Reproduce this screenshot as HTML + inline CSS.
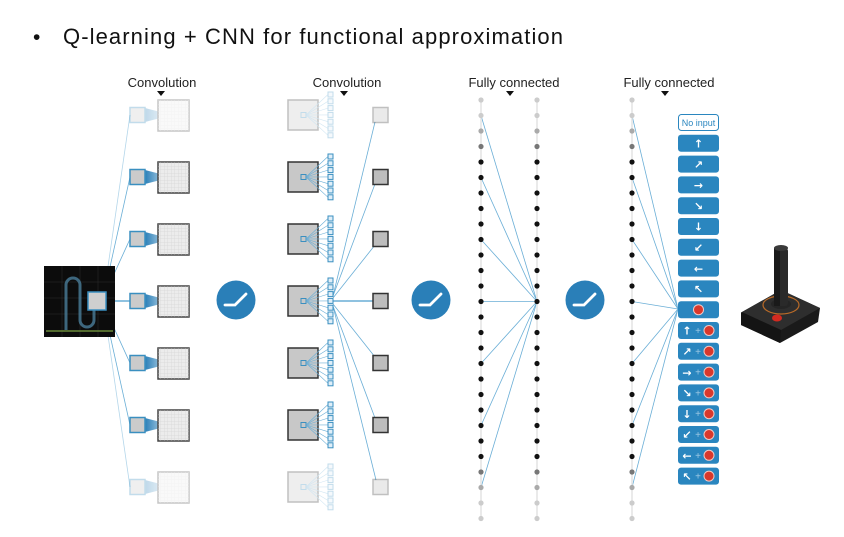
<!DOCTYPE html>
<html><head><meta charset="utf-8"><style>
body{margin:0;background:#fff;}
svg{display:block;font-family:"Liberation Sans",sans-serif;}
</style></head><body>
<svg width="844" height="537" viewBox="0 0 844 537" xmlns="http://www.w3.org/2000/svg">
<defs>
<pattern id="grid" width="3.5" height="3.5" patternUnits="userSpaceOnUse"><path d="M3.5 0V3.5H0" fill="none" stroke="#cfcfcf" stroke-width="0.5"/></pattern>
<linearGradient id="tri" x1="0" x2="1"><stop offset="0" stop-color="#2a7fb8"/><stop offset="1" stop-color="#2a7fb8" stop-opacity="0.1"/></linearGradient>
<g id="c1">
<polygon points="145,-7 172,0 145,7" fill="url(#tri)"/>
<rect x="130" y="-7.5" width="15" height="15" fill="#cbcbcb" stroke="#3a8fc0" stroke-width="1.5"/>
<rect x="158" y="-15" width="31" height="31" fill="#ececec" stroke="#444" stroke-width="1.5"/>
<rect x="158" y="-15" width="31" height="31" fill="url(#grid)"/>
</g>
<g id="c2">
<rect x="288" y="-15" width="30" height="30" fill="#c8c8c8" stroke="#333" stroke-width="1.5"/>
<rect x="301" y="-2.5" width="5" height="5" fill="none" stroke="#3a8fc0" stroke-width="1"/>
<g stroke="#6aaed6" stroke-width="0.6">
<line x1="306" y1="0" x2="328" y2="-20.5"/><line x1="306" y1="0" x2="328" y2="-13.7"/><line x1="306" y1="0" x2="328" y2="-6.9"/><line x1="306" y1="0" x2="328" y2="-0.1"/><line x1="306" y1="0" x2="328" y2="6.7"/><line x1="306" y1="0" x2="328" y2="13.5"/><line x1="306" y1="0" x2="328" y2="20.3"/>
</g>
<g fill="#dfeef8" stroke="#3a8fc0" stroke-width="1">
<rect x="328" y="-23" width="5" height="5"/><rect x="328" y="-16.2" width="5" height="5"/><rect x="328" y="-9.4" width="5" height="5"/><rect x="328" y="-2.6" width="5" height="5"/><rect x="328" y="4.2" width="5" height="5"/><rect x="328" y="11" width="5" height="5"/><rect x="328" y="17.8" width="5" height="5"/>
</g>
<rect x="373" y="-7.5" width="15" height="15" fill="#bdbdbd" stroke="#333" stroke-width="1.5"/>
</g>
<g id="dots">
<line x1="0" y1="100" x2="0" y2="519" stroke="#e4e4e4" stroke-width="1.5"/>
<g fill="#ccc"><circle cy="100" r="2.6"/><circle cy="115.5" r="2.6"/><circle cy="503" r="2.6"/><circle cy="518.5" r="2.6"/></g>
<g fill="#aaa"><circle cy="131" r="2.6"/><circle cy="487.5" r="2.6"/></g>
<g fill="#777"><circle cy="146.5" r="2.6"/><circle cy="472" r="2.6"/></g>
<g fill="#111"><circle cy="162" r="2.6"/><circle cy="177.5" r="2.6"/><circle cy="193" r="2.6"/><circle cy="208.5" r="2.6"/><circle cy="224" r="2.6"/><circle cy="239.5" r="2.6"/><circle cy="255" r="2.6"/><circle cy="270.5" r="2.6"/><circle cy="286" r="2.6"/><circle cy="301.5" r="2.6"/><circle cy="317" r="2.6"/><circle cy="332.5" r="2.6"/><circle cy="348" r="2.6"/><circle cy="363.5" r="2.6"/><circle cy="379" r="2.6"/><circle cy="394.5" r="2.6"/><circle cy="410" r="2.6"/><circle cy="425.5" r="2.6"/><circle cy="441" r="2.6"/><circle cy="456.5" r="2.6"/></g>
</g>
<g id="relu"><circle r="19.5" fill="#2a7fb8"/><path d="M-11 5H-1L10 -6" fill="none" stroke="#fff" stroke-width="2.8" stroke-linecap="round"/></g>
<g id="btn"><rect x="678" y="0" width="41" height="17" rx="3" fill="#2a86bf"/></g>
</defs>

<text x="33" y="44" font-size="21" fill="#111">•</text>
<text x="63" y="44" font-size="22" fill="#111" textLength="500" lengthAdjust="spacing">Q-learning + CNN for functional approximation</text>

<g font-size="13" fill="#222" text-anchor="middle">
<text x="162" y="87">Convolution</text>
<text x="347" y="87">Convolution</text>
<text x="514" y="87">Fully connected</text>
<text x="669" y="87">Fully connected</text>
</g>
<g fill="#111">
<polygon points="157,91 165,91 161,96"/><polygon points="340,91 348,91 344,96"/><polygon points="506,91 514,91 510,96"/><polygon points="661,91 669,91 665,96"/>
</g>

<g stroke="#6aaed6" stroke-width="0.8">
<line x1="104" y1="294" x2="130" y2="115" opacity="0.5"/><line x1="104" y1="294" x2="130" y2="177"/><line x1="104" y1="296" x2="130" y2="239"/><line x1="106" y1="301" x2="130" y2="301" stroke-width="1.5"/><line x1="104" y1="306" x2="130" y2="363"/><line x1="104" y1="308" x2="130" y2="425"/><line x1="104" y1="308" x2="130" y2="487" opacity="0.5"/>
</g>
<rect x="44" y="266" width="71" height="71" fill="#0c0c0c"/>
<g stroke="#2a2a2a" stroke-width="0.6"><line x1="44" y1="282" x2="115" y2="282"/><line x1="44" y1="298" x2="115" y2="298"/><line x1="44" y1="314" x2="115" y2="314"/><line x1="62" y1="266" x2="62" y2="337"/><line x1="80" y1="266" x2="80" y2="337"/><line x1="98" y1="266" x2="98" y2="337"/></g>
<path d="M66 330V285a7 7 0 0 1 14 0V320a7 7 0 0 0 14 0V300" fill="none" stroke="#4a7d9a" stroke-width="3" opacity="0.8"/>
<line x1="46" y1="331" x2="113" y2="331" stroke="#6a8a3a" stroke-width="1.5"/>
<rect x="88" y="292" width="18" height="18" fill="#cfcfcf" stroke="#3a8fc0" stroke-width="1.5"/>

<use href="#c1" y="115" opacity="0.3"/><use href="#c1" y="177"/><use href="#c1" y="239"/><use href="#c1" y="301"/><use href="#c1" y="363"/><use href="#c1" y="425"/><use href="#c1" y="487" opacity="0.3"/>

<use href="#relu" x="236" y="300"/><use href="#relu" x="431" y="300"/><use href="#relu" x="585" y="300"/>

<g stroke="#6aaed6" stroke-width="0.8">
<line x1="333" y1="296" x2="375" y2="122"/><line x1="333" y1="296" x2="375" y2="184"/><line x1="333" y1="298" x2="375" y2="245"/><line x1="333" y1="301" x2="373" y2="301" stroke-width="1.5"/><line x1="333" y1="304" x2="375" y2="357"/><line x1="333" y1="306" x2="375" y2="418"/><line x1="333" y1="306" x2="376" y2="480"/>
</g>
<use href="#c2" y="115" opacity="0.3"/><use href="#c2" y="177"/><use href="#c2" y="239"/><use href="#c2" y="301"/><use href="#c2" y="363"/><use href="#c2" y="425"/><use href="#c2" y="487" opacity="0.3"/>

<g stroke="#6aaed6" stroke-width="0.8">
<line x1="481" y1="115.5" x2="537" y2="301.5"/><line x1="481" y1="177.5" x2="537" y2="301.5"/><line x1="481" y1="239.5" x2="537" y2="301.5"/><line x1="481" y1="301.5" x2="537" y2="301.5"/><line x1="481" y1="363.5" x2="537" y2="301.5"/><line x1="481" y1="425.5" x2="537" y2="301.5"/><line x1="481" y1="487.5" x2="537" y2="301.5"/>
<line x1="632" y1="115.5" x2="678" y2="309"/><line x1="632" y1="177.5" x2="678" y2="309"/><line x1="632" y1="239.5" x2="678" y2="309"/><line x1="632" y1="301.5" x2="678" y2="309"/><line x1="632" y1="363.5" x2="678" y2="309"/><line x1="632" y1="425.5" x2="678" y2="309"/><line x1="632" y1="487.5" x2="678" y2="309"/>
</g>
<use href="#dots" x="481"/><use href="#dots" x="537"/><use href="#dots" x="632"/>

<rect x="678.5" y="114.5" width="40" height="16" rx="3" fill="#fff" stroke="#2a86bf"/>
<text x="698.5" y="126" font-size="9" fill="#2a86bf" text-anchor="middle">No input</text>
<use href="#btn" y="134.8"/><use href="#btn" y="155.6"/><use href="#btn" y="176.4"/><use href="#btn" y="197.2"/><use href="#btn" y="218"/><use href="#btn" y="238.8"/><use href="#btn" y="259.6"/><use href="#btn" y="280.4"/><use href="#btn" y="301.2"/><use href="#btn" y="322"/><use href="#btn" y="342.8"/><use href="#btn" y="363.6"/><use href="#btn" y="384.4"/><use href="#btn" y="405.2"/><use href="#btn" y="426"/><use href="#btn" y="446.8"/><use href="#btn" y="467.6"/>
<g font-size="11" fill="#fff" text-anchor="middle" font-weight="bold" font-family="DejaVu Sans,sans-serif">
<text x="698.5" y="147.5">↑</text><text x="698.5" y="168.3">↗</text><text x="698.5" y="189.1">→</text><text x="698.5" y="209.9">↘</text><text x="698.5" y="230.7">↓</text><text x="698.5" y="251.5">↙</text><text x="698.5" y="272.3">←</text><text x="698.5" y="293.1">↖</text>
<text x="687" y="334.7">↑</text><text x="687" y="355.5">↗</text><text x="687" y="376.3">→</text><text x="687" y="397.1">↘</text><text x="687" y="417.9">↓</text><text x="687" y="438.7">↙</text><text x="687" y="459.5">←</text><text x="687" y="480.3">↖</text>
</g>
<g font-size="10" fill="#9cc8e4" text-anchor="middle">
<text x="698" y="334">+</text><text x="698" y="354.8">+</text><text x="698" y="375.6">+</text><text x="698" y="396.4">+</text><text x="698" y="417.2">+</text><text x="698" y="438">+</text><text x="698" y="458.8">+</text><text x="698" y="479.6">+</text>
</g>
<g fill="#d9382c" stroke="#f2c8c4" stroke-width="1">
<circle cx="698.5" cy="309.7" r="5"/>
<circle cx="709" cy="330.5" r="5"/><circle cx="709" cy="351.3" r="5"/><circle cx="709" cy="372.1" r="5"/><circle cx="709" cy="392.9" r="5"/><circle cx="709" cy="413.7" r="5"/><circle cx="709" cy="434.5" r="5"/><circle cx="709" cy="455.3" r="5"/><circle cx="709" cy="476.1" r="5"/>
</g>

<polygon points="742,312 781,290 820,308 818,322 780,343 741,325" fill="#1a1a1a"/>
<polygon points="742,312 781,290 820,308 781,330" fill="#2e2e2e"/>
<polygon points="741,312 781,330 780,343 741,325" fill="#141414"/>
<ellipse cx="781" cy="305" rx="18" ry="9" fill="none" stroke="#b86a28" stroke-width="1.2"/>
<ellipse cx="781" cy="304" rx="10" ry="5" fill="#252525"/>
<rect x="774" y="248" width="14" height="58" rx="3" fill="#2a2a2a"/>
<rect x="774" y="248" width="6" height="58" fill="#1a1a1a"/>
<ellipse cx="781" cy="248" rx="7" ry="3" fill="#3a3a3a"/>
<ellipse cx="777" cy="318" rx="5" ry="3.5" fill="#d42a20"/>
</svg>
</body></html>
